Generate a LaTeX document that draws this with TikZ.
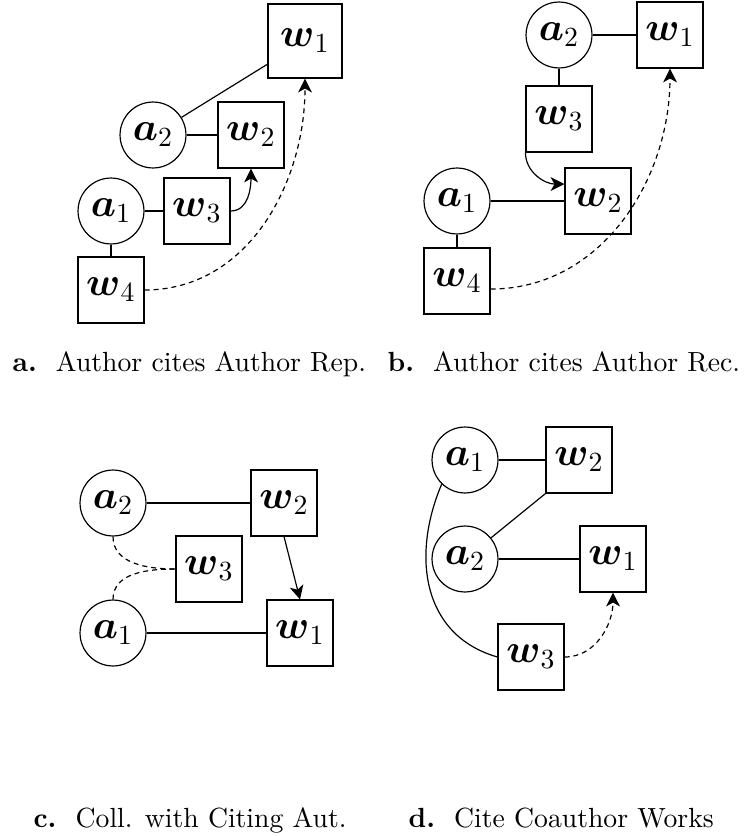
\documentclass[tikz,border=0pt]{standalone}
\usepackage{amsmath}
\usetikzlibrary{arrows.meta,calc}
\tikzset{
  nodebase/.style={draw, line width=0.43pt, inner sep=0pt, font=\Large},
  auth/.style={nodebase, circle, minimum size=23.8pt},
  work/.style={nodebase, rectangle, minimum size=23.8pt},
  bigwork/.style={nodebase, rectangle, minimum size=26.7pt},
  ln/.style={line width=0.43pt},
  cit/.style={line width=0.43pt, -{Stealth[length=5pt,width=5pt,inset=1.4pt]}},
  dcit/.style={cit, dash pattern=on 1.8pt off 1.45pt},
  dln/.style={ln, dash pattern=on 1.8pt off 1.45pt},
  captxt/.style={anchor=base west, inner sep=0pt, font=\normalsize}
}
\begin{document}
\begin{tikzpicture}[x=0.361pt,y=-0.361pt]
\useasboundingbox (0,0) rectangle (748,836);
% panel a
\node[bigwork] (aW1) at (305,41) {$\boldsymbol{w}_1$};
\node[auth] (aA2) at (153,135) {$\boldsymbol{a}_2$};
\node[work] (aW2) at (251,135) {$\boldsymbol{w}_2$};
\node[auth] (aA1) at (111,211) {$\boldsymbol{a}_1$};
\node[work] (aW3) at (197,211) {$\boldsymbol{w}_3$};
\node[work] (aW4) at (111,290) {$\boldsymbol{w}_4$};
\draw[ln] (aA2) -- (aW1);
\draw[ln] (aA2) -- (aW2);
\draw[ln] (aA1) -- (aW3);
\draw[ln] (aA1) -- (aW4);
\draw[cit] (aW3.east) to[out=0,in=-90] (aW2.south);
\draw[dcit] (aW4.east) to[out=0,in=-90] (aW1.south);
% panel b
\node[auth] (bA2) at (559,35) {$\boldsymbol{a}_2$};
\node[work] (bW1) at (670,35) {$\boldsymbol{w}_1$};
\node[work] (bW3) at (559,119) {$\boldsymbol{w}_3$};
\node[work] (bW2) at (598,201) {$\boldsymbol{w}_2$};
\node[auth] (bA1) at (457,201) {$\boldsymbol{a}_1$};
\node[work] (bW4) at (457,281) {$\boldsymbol{w}_4$};
\draw[ln] (bA2) -- (bW1);
\draw[ln] (bA2) -- (bW3);
\draw[ln] (bA1) -- (bW2);
\draw[ln] (bA1) -- (bW4);
\draw[cit] (bW3.south west) to[out=-90,in=180] ([yshift=6.1pt]bW2.west);
\draw[dcit] ([yshift=-2.9pt]bW4.east) to[out=0,in=-90] (bW1.south);
% panel c
\node[auth] (cA2) at (113,503) {$\boldsymbol{a}_2$};
\node[work] (cW2) at (284,503) {$\boldsymbol{w}_2$};
\node[work] (cW3) at (209,569) {$\boldsymbol{w}_3$};
\node[auth] (cA1) at (113,633) {$\boldsymbol{a}_1$};
\node[work] (cW1) at (300,633) {$\boldsymbol{w}_1$};
\draw[ln] (cA2) -- (cW2);
\draw[ln] (cA1) -- (cW1);
\draw[cit] (cW2.south) -- (cW1.north);
\draw[dln] (cA2.south) to[out=-90,in=180] (cW3.west);
\draw[dln] (cA1.north) to[out=90,in=180] (cW3.west);
% panel d
\node[auth] (dA1) at (465,460) {$\boldsymbol{a}_1$};
\node[work] (dW2) at (579,460) {$\boldsymbol{w}_2$};
\node[auth] (dA2) at (465,559) {$\boldsymbol{a}_2$};
\node[work] (dW1) at (613,559) {$\boldsymbol{w}_1$};
\node[work] (dW3) at (531,657) {$\boldsymbol{w}_3$};
\draw[ln] (dA1) -- (dW2);
\draw[ln] (dA2) -- (dW1);
\draw[ln] (dA2) -- (dW2.south west);
\draw[ln] (dA1.-134) to[out=-113,in=164,looseness=1.1] (dW3.west);
\draw[dcit] (dW3.east) to[out=0,in=-90] (dW1.south);
% captions
\node[captxt] (capa) at (12,371) {\textbf{a.}\hspace{6.9pt}Author cites Author Rep.};
\node[captxt] (capb) at (387,371) {\textbf{b.}\hspace{6.9pt}Author cites Author Rec.};
\node[captxt] (capc) at (33,827) {\textbf{c.}\hspace{6.9pt}Coll. with Citing Aut.};
\node[captxt] (capd) at (408,827) {\textbf{d.}\hspace{6.9pt}Cite Coauthor Works};
\end{tikzpicture}
\end{document}
